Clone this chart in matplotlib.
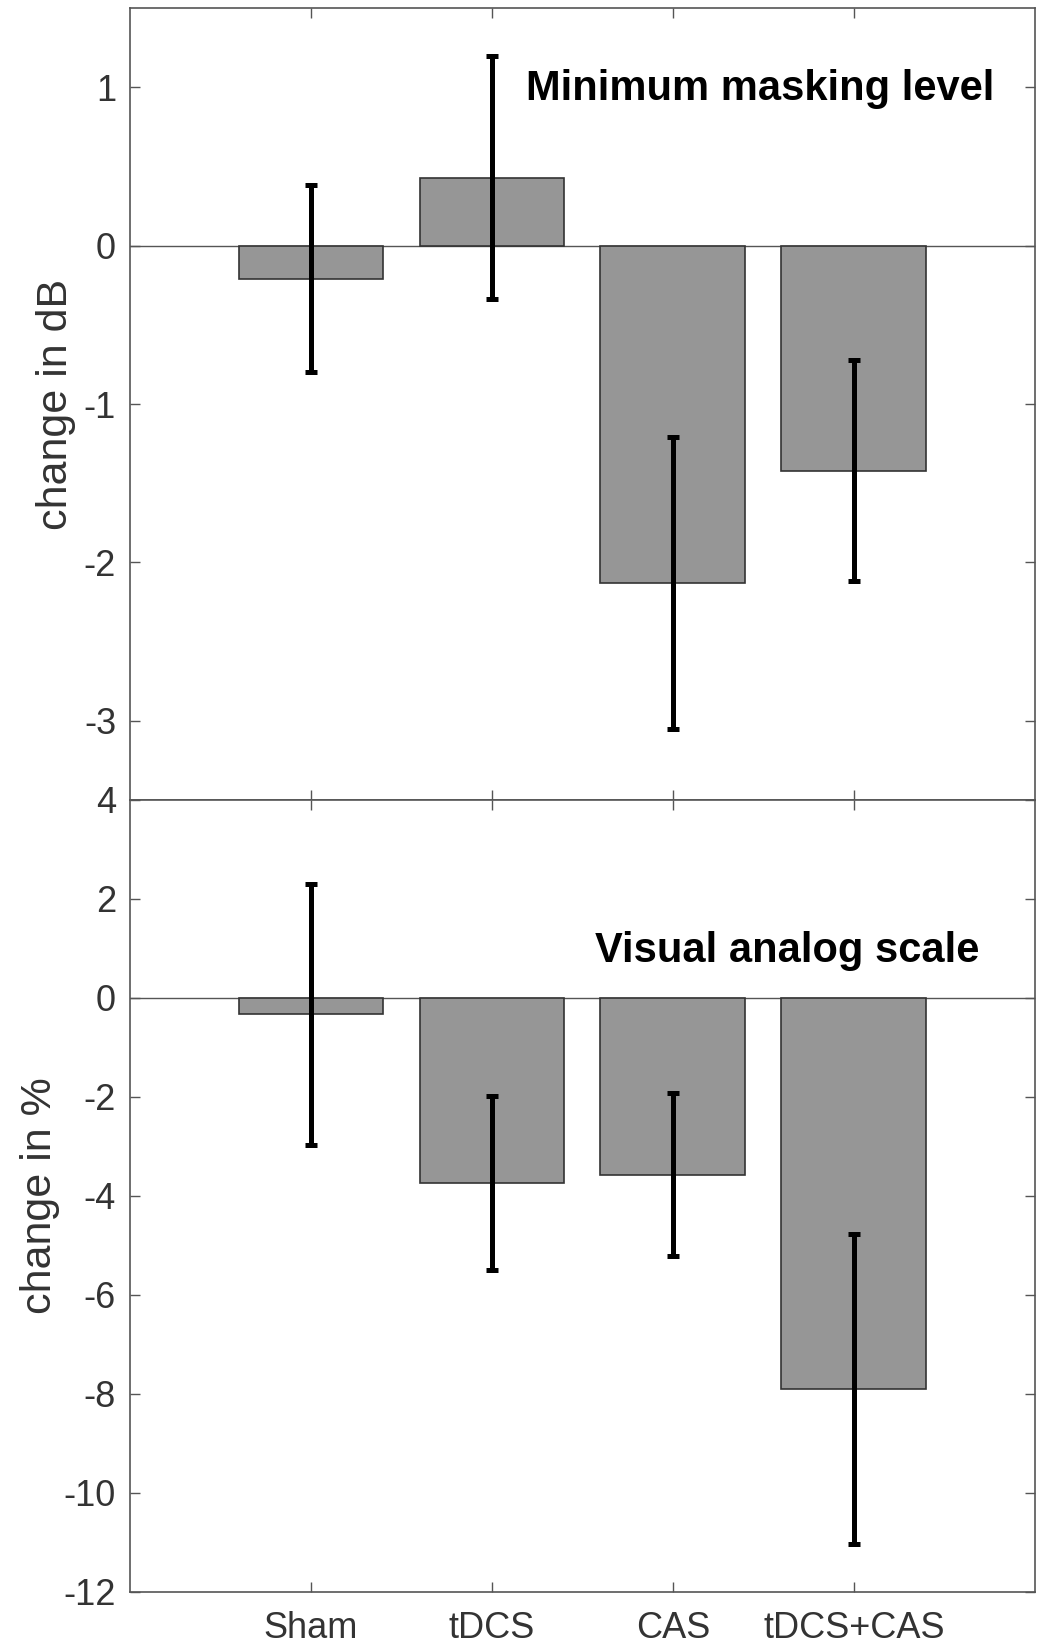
import numpy as np
import matplotlib
matplotlib.use('Agg')
import matplotlib.pyplot as plt

plt.rcParams['font.family'] = ['Liberation Sans', 'DejaVu Sans']
plt.rcParams['axes.unicode_minus'] = False

groups = ['Sham', 'tDCS', 'CAS', 'tDCS+CAS']

# minimum masking level (dB)
mml_mean = [-0.21, 0.43, -2.13, -1.42]
mml_err = [0.59, 0.77, 0.92, 0.70]

# visual analog scale (%)
vas_mean = [-0.33, -3.74, -3.57, -7.90]
vas_err = [2.64, 1.76, 1.65, 3.13]

fig = plt.figure(figsize=(10.4, 16.48), dpi=100)
ax1 = fig.add_axes([0.125, 0.5146, 0.87, 0.4805])
ax2 = fig.add_axes([0.125, 0.034, 0.87, 0.4806])

x = np.arange(1, len(groups) + 1)
spine_col = '#555555'
tick_col = '#333333'


def draw(ax, mean, err, ylim, yticks, ylabel, title, title_pos):
    ax.bar(x, mean, width=0.8, color='#969696', edgecolor='#333333',
           linewidth=1.2, zorder=2)
    ax.axhline(0, color='#555555', linewidth=1, zorder=1)
    ax.errorbar(x, mean, yerr=err, fmt='none', ecolor='black',
                elinewidth=3.6, capsize=4, capthick=3.6, zorder=3)
    ax.set_xlim(0, 5)
    ax.set_ylim(*ylim)
    ax.set_yticks(yticks)
    ax.set_xticks(x)
    ax.tick_params(direction='in', length=7, width=1, color=spine_col,
                   top=True, right=True, labelsize=26, labelcolor=tick_col,
                   pad=10)
    for s in ax.spines.values():
        s.set_color(spine_col)
        s.set_linewidth(1.2)
    ax.set_ylabel(ylabel, fontsize=31, color=tick_col)
    ax.text(title_pos[0], title_pos[1], title, transform=ax.transAxes,
            ha='right', va='center', fontsize=30, fontweight='bold')


draw(ax1, mml_mean, mml_err, (-3.5, 1.5), [-3, -2, -1, 0, 1],
     'change in dB', 'Minimum masking level', (0.955, 0.898))
ax1.set_xticklabels([])
ax1.yaxis.set_label_coords(-0.060, 0.5)

draw(ax2, vas_mean, vas_err, (-12, 4), np.arange(-12, 5, 2),
     'change in %', 'Visual analog scale', (0.939, 0.809))
ax2.set_xticklabels(groups)
ax2.tick_params(axis='x', pad=14)
ax2.yaxis.set_label_coords(-0.077, 0.5)

fig.savefig('out.png', dpi=100)
